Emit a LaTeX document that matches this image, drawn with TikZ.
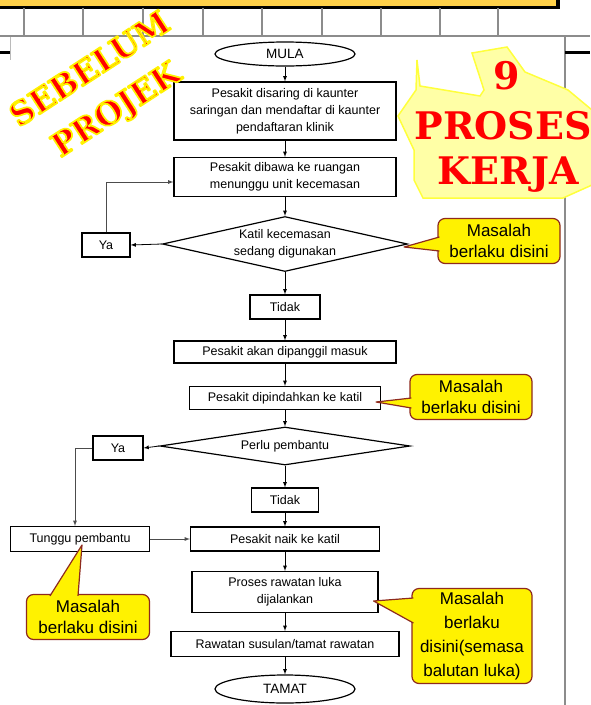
\documentclass[tikz,border=0pt]{standalone}
\usepackage{fontspec}
\setmainfont{Liberation Sans}
\newfontfamily\slabfont{DejaVu Serif}
\usetikzlibrary{shapes.geometric}

\definecolor{barfill}{HTML}{FFD14A}
\definecolor{gridgrey}{HTML}{8C8C8C}
\definecolor{noteedge}{HTML}{8E2A1E}
\definecolor{blobfill}{HTML}{FFFFA6}
\definecolor{blobedge}{HTML}{FFFF3C}
\definecolor{titlered}{HTML}{FF0000}

% red words, stroked with a yellow rim (text render mode 2)
\newcommand{\rimword}[1]{{\color{titlered}%
  \special{pdf:literal direct 1 0.95 0 RG 1.7 w 1 j 2 Tr}#1%
  \special{pdf:literal direct 0 Tr}}}

\begin{document}
\begin{tikzpicture}[x=1pt, y=-1pt, >=latex,
    box/.style={draw, line width=1.2pt, fill=white, align=center, inner sep=2pt,
      font=\fontsize{12.5}{17}\selectfont},
    decision/.style={diamond, draw, line width=1.2pt, fill=white, aspect=4.5,
      inner sep=0pt, align=center, font=\fontsize{12.5}{17}\selectfont},
    terminal/.style={ellipse, draw, line width=1.2pt, fill=white, inner sep=0pt,
      font=\fontsize{13.5}{16}\selectfont},
    flow/.style={->, line width=0.8pt},
    loopline/.style={->, line width=0.8pt, draw=black!70},
    note/.style={draw=noteedge, fill=yellow, line width=1.2pt, rounded corners=7pt,
      align=center, inner sep=2pt, font=\fontsize{17}{21}\selectfont},
    pointer/.style={draw=noteedge, fill=yellow, line width=1.2pt, line join=round},
    sebelum/.style={font=\slabfont\bfseries\fontsize{32}{48}\selectfont, rotate=33,
      inner sep=0pt, align=center},
    kerja/.style={text=titlered, font=\slabfont\bfseries\fontsize{38}{38}\selectfont, inner sep=0pt}]
  \useasboundingbox (0,0) rectangle (590,705);

  % slide frame behind
  \fill[barfill] (0,0) rectangle (558,6);
  \draw[line width=3pt] (0,7) -- (559,7);
  \draw[line width=3.5pt] (558,0) -- (558,8.5);
  \foreach \gx in {24,83,143,203,262,322,381,440,498}
    \draw[gridgrey, line width=1.4pt] (\gx,8) -- (\gx,36);
  \draw[gridgrey, line width=1.6pt] (0,36) -- (590,36);
  \draw[gridgrey!60, line width=0.6pt] (10,37) -- (10,60);
  \draw[gridgrey, line width=1.2pt] (565,36) -- (565,705);
  \draw[line width=3pt] (0,52) -- (10,52);
  \draw[line width=3pt] (565,52) -- (590,52);

  % flowchart
  \node[terminal, minimum width=140pt, minimum height=24pt] (mula) at (285,54) {MULA};
  \node[box, minimum width=222pt, minimum height=58pt] (saring) at (285,111)
    {Pesakit disaring di kaunter\\saringan dan mendaftar di kaunter\\pendaftaran klinik};
  \node[box, minimum width=222pt, minimum height=39pt] (bawa) at (285,177)
    {Pesakit dibawa ke ruangan\\menunggu unit kecemasan};
  \node[decision, minimum width=245pt, minimum height=55pt] (katil) at (285,244)
    {Katil kecemasan\\sedang digunakan};
  \node[box, minimum width=48pt, minimum height=24pt] (ya1) at (106,245) {Ya};
  \node[box, minimum width=70pt, minimum height=24pt] (tidak1) at (285,307) {Tidak};
  \node[box, minimum width=222pt, minimum height=22pt] (panggil) at (285,352)
    {Pesakit akan dipanggil masuk};
  \node[box, minimum width=191pt, minimum height=23pt] (pindah) at (285,398)
    {Pesakit dipindahkan ke katil};
  \node[decision, minimum width=250pt, minimum height=38pt] (pembantu) at (285,446)
    {Perlu pembantu};
  \node[box, minimum width=50pt, minimum height=24pt] (ya2) at (118,448) {Ya};
  \node[box, minimum width=67pt, minimum height=24pt] (tidak2) at (285,500) {Tidak};
  \node[box, minimum width=189pt, minimum height=24pt] (naik) at (285,539)
    {Pesakit naik ke katil};
  \node[box, minimum width=139pt, minimum height=25pt] (tunggu) at (80,539)
    {Tunggu pembantu};
  \node[box, minimum width=186pt, minimum height=41pt] (rawat) at (285,592)
    {Proses rawatan luka\\dijalankan};
  \node[box, minimum width=228pt, minimum height=25pt] (susulan) at (285,644)
    {Rawatan susulan/tamat rawatan};
  \node[terminal, minimum width=140pt, minimum height=28pt] (tamat) at (285,689) {TAMAT};

  \draw[flow] (mula) -- (saring);
  \draw[flow] (saring) -- (bawa);
  \draw[flow] (bawa) -- (katil);
  \draw[flow] (katil.west) -- (ya1.east);
  \draw[loopline] (ya1.north) |- ([yshift=-5pt]bawa.west);
  \draw[flow] (katil) -- (tidak1);
  \draw[flow] (tidak1) -- (panggil);
  \draw[flow] (panggil) -- (pindah);
  \draw[flow] (pindah) -- (pembantu);
  \draw[flow] (pembantu.west) -- (ya2.east);
  \draw[loopline] (ya2.west) -| ([xshift=-5pt]tunggu.north);
  \draw[flow] (pembantu) -- (tidak2);
  \draw[flow] (tidak2) -- (naik);
  \draw[loopline] (tunggu) -- (naik);
  \draw[flow] (naik) -- (rawat);
  \draw[flow] (rawat) -- (susulan);
  \draw[flow] (susulan) -- (tamat);

  % callouts
  \node[note, minimum width=122pt, minimum height=45pt] (note1) at (499,241)
    {Masalah\\berlaku disini};
  \node[note, minimum width=122pt, minimum height=45pt] (note2) at (471,397)
    {Masalah\\berlaku disini};
  \node[note, minimum width=123pt, minimum height=45pt] (note3) at (88,617)
    {Masalah\\berlaku disini};
  \node[note, minimum width=120pt, minimum height=95pt,
    font=\fontsize{17}{24}\selectfont] (note4) at (472,636)
    {Masalah\\berlaku\\disini(semasa\\balutan luka)};

  \draw[pointer] ([xshift=2pt,yshift=4pt]note1.west) -- ([xshift=-4pt,yshift=-3pt]katil.east)
    -- ([xshift=2pt,yshift=-10pt]note1.west);
  \draw[pointer] ([xshift=2pt,yshift=-1pt]note2.west) -- ([xshift=-5pt,yshift=-4pt]pindah.east)
    -- ([xshift=2pt,yshift=-11pt]note2.west);
  \draw[pointer] ([xshift=-38pt,yshift=-2pt]note3.north) -- ([xshift=2pt,yshift=-6pt]tunggu.center)
    -- ([xshift=-10pt,yshift=-2pt]note3.north);
  \draw[pointer] ([xshift=2pt,yshift=38pt]note4.west) -- ([xshift=-5pt,yshift=-9pt]rawat.east)
    -- ([xshift=2pt,yshift=13pt]note4.west);

  % titles
  \node[sebelum] (sebelum) at (104,91) {\rimword{SEBELUM}\\\rimword{PROJEK}};

  \filldraw[fill=blobfill, draw=blobedge, line width=1.5pt]
    (417,60) -- (420,86) -- (480,96) -- (484,90) -- (472,53) -- (507,47) -- (525,72)
    -- (568,90) -- (592,110) -- (592,185) -- (563,198) -- (423,198) -- (414,180)
    -- (414,150) -- (398,116) -- (416,90) -- cycle;
  \node[kerja] (nine) at (507,76) {9};
  \node[kerja] (proses) at (503,126) {PROSES};
  \node[kerja] (kerjaword) at (508,175) {KERJA};
\end{tikzpicture}
\end{document}
